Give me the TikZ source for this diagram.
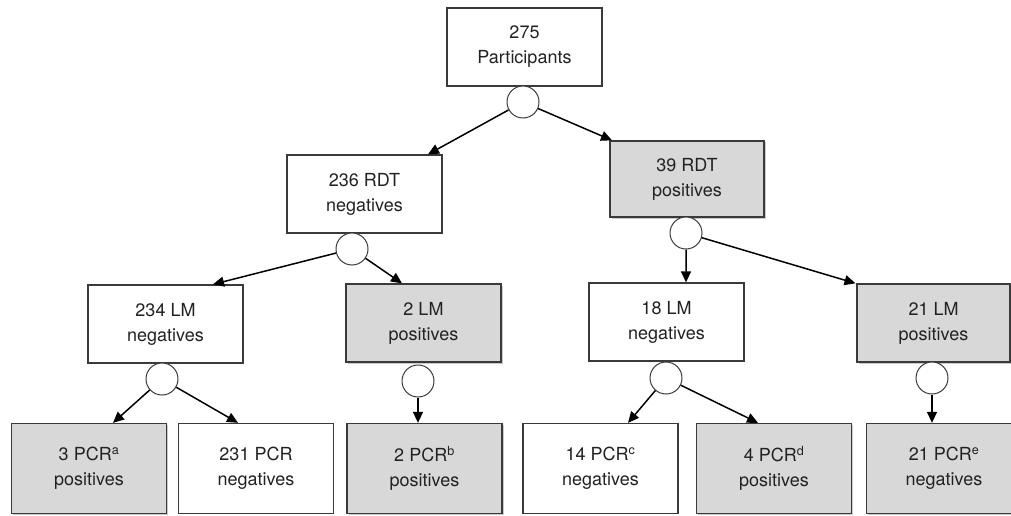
\documentclass[tikz,border=0pt]{standalone}
\usepackage{fontspec}
\setmainfont{TeX Gyre Heros}
\usetikzlibrary{arrows.meta,shadows}
\definecolor{box-grey}{HTML}{D8D8D8}
\definecolor{box-line}{HTML}{3A3A3A}
\definecolor{text-dark}{HTML}{222222}
\newlength{\basisflowchart}
\setlength{\basisflowchart}{10pt}

\begin{document}
\begin{tikzpicture}[
    whitebox/.style={draw=box-line, line width=1.3pt, fill=white, text=text-dark, align=center,
        minimum width=15.5\basisflowchart, minimum height=7.8\basisflowchart,
        font=\fontsize{18}{25}\selectfont},
    greybox/.style={whitebox, fill=box-grey,
        drop shadow={shadow xshift=1.5pt, shadow yshift=-1.5pt, opacity=0.35, fill=black!60}},
    splitcircle/.style={circle, draw=box-line, line width=1pt, fill=white, inner sep=0pt,
        minimum size=3.2\basisflowchart},
    flowarrow/.style={-{Triangle[length=11pt,width=10pt]}, line width=1.5pt, black}]

    \useasboundingbox (0,0) rectangle (101.1\basisflowchart,51.5\basisflowchart);

    % first test
    \draw (52.45\basisflowchart,46.8\basisflowchart) 
		node[whitebox] 
			(participants) {275\\Participants};

    \draw (36.45\basisflowchart,32.1\basisflowchart) 
		node[whitebox] 
			(rdt-negatives) {236 RDT\\negatives};

    \draw (68.7\basisflowchart,33.6\basisflowchart) 
		node[greybox, minimum width=15.4\basisflowchart, minimum height=7.6\basisflowchart] 
			(rdt-positives) {39 RDT\\positives};

    % second test
    \draw (16.55\basisflowchart,19.1\basisflowchart) 
		node[whitebox] 
			(lm-negatives-234) {234 LM\\negatives};

    \draw (42.35\basisflowchart,19.2\basisflowchart) 
		node[greybox] 
			(lm-positives-2) {2 LM\\positives};

    \draw (66.65\basisflowchart,19.3\basisflowchart) 
		node[whitebox] 
			(lm-negatives-18) {18 LM\\negatives};

    \draw (93.35\basisflowchart,19.2\basisflowchart) 
		node[greybox, minimum width=15.3\basisflowchart] 
			(lm-positives-21) {21 LM\\positives};

    % third test
    \draw (8.9\basisflowchart,4.65\basisflowchart) 
		node[greybox, minimum height=9.0\basisflowchart] 
			(pcr-positives-3) {3 PCR\textsuperscript{a}\\positives};

    \draw (25.6\basisflowchart,4.65\basisflowchart) 
		node[whitebox, minimum height=9.0\basisflowchart] 
			(pcr-negatives-231) {231 PCR\\negatives};

    \draw (42.45\basisflowchart,4.65\basisflowchart) 
		node[greybox, minimum height=9.0\basisflowchart] 
			(pcr-positives-2) {2 PCR\textsuperscript{b}\\positives};

    \draw (60.05\basisflowchart,4.65\basisflowchart) 
		node[whitebox, minimum height=9.0\basisflowchart] 
			(pcr-negatives-14) {14 PCR\textsuperscript{c}\\negatives};

    \draw (77.4\basisflowchart,4.65\basisflowchart) 
		node[greybox, minimum height=9.0\basisflowchart] 
			(pcr-positives-4) {4 PCR\textsuperscript{d}\\positives};

    \draw (94.4\basisflowchart,4.65\basisflowchart) 
		node[greybox, minimum height=9.0\basisflowchart] 
			(pcr-negatives-21) {21 PCR\textsuperscript{e}\\negatives};

    % split points
    \node[splitcircle] (split-participants) at (52.3\basisflowchart,41.3\basisflowchart) {};
    \node[splitcircle] (split-rdt-negatives) at (35.2\basisflowchart,26.6\basisflowchart) {};
    \node[splitcircle] (split-rdt-positives) at (68.6\basisflowchart,28.2\basisflowchart) {};
    \node[splitcircle] (split-lm-negatives-234) at (16.2\basisflowchart,13.6\basisflowchart) {};
    \node[splitcircle] (split-lm-positives-2) at (41.8\basisflowchart,13.4\basisflowchart) {};
    \node[splitcircle] (split-lm-negatives-18) at (66.6\basisflowchart,13.7\basisflowchart) {};
    \node[splitcircle] (split-lm-positives-21) at (93.2\basisflowchart,13.7\basisflowchart) {};

	\draw[flowarrow] (split-participants) -- ([xshift=6.35\basisflowchart]rdt-negatives.north);
	\draw[flowarrow] (split-participants) -- ([xshift=-7.5\basisflowchart]rdt-positives.north);
	\draw[flowarrow] (split-rdt-negatives) -- ([xshift=4.75\basisflowchart]lm-negatives-234.north);
	\draw[flowarrow] (split-rdt-negatives) -- ([xshift=-2.15\basisflowchart]lm-positives-2.north);
	\draw[flowarrow] (split-rdt-positives) -- ([xshift=1.95\basisflowchart]lm-negatives-18.north);
	\draw[flowarrow] (split-rdt-positives) -- ([xshift=-7.8\basisflowchart]lm-positives-21.north);
	\draw[flowarrow] (split-lm-negatives-234) -- ([xshift=2.4\basisflowchart]pcr-positives-3.north);
	\draw[flowarrow] (split-lm-negatives-234) -- ([xshift=-1.8\basisflowchart]pcr-negatives-231.north);
	\draw[flowarrow] (split-lm-positives-2) -- ([xshift=-0.65\basisflowchart]pcr-positives-2.north);
	\draw[flowarrow] (split-lm-negatives-18) -- ([xshift=2.75\basisflowchart]pcr-negatives-14.north);
	\draw[flowarrow] (split-lm-negatives-18) -- ([xshift=-1.6\basisflowchart]pcr-positives-4.north);
	\draw[flowarrow] (split-lm-positives-21) -- ([xshift=-1.2\basisflowchart]pcr-negatives-21.north);
\end{tikzpicture}
\end{document}
